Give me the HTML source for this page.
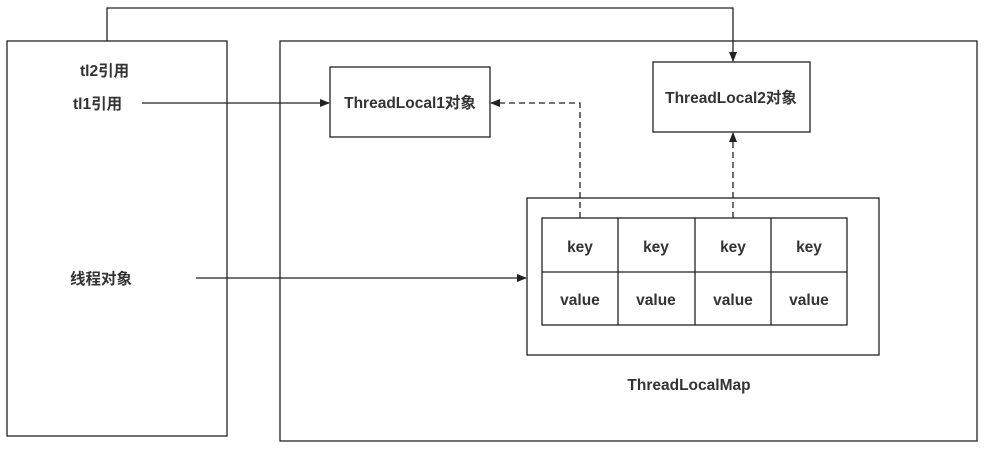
<!DOCTYPE html>
<html><head><meta charset="utf-8"><style>
body{margin:0;background:#fff}
text{font-family:"Liberation Sans","Noto Sans CJK SC",sans-serif;font-size:15.5px;font-weight:bold;fill:#333}
</style></head><body>
<svg width="989" height="451" xmlns="http://www.w3.org/2000/svg">
<defs><marker id="a" markerWidth="10" markerHeight="8" refX="9" refY="4" orient="auto" markerUnits="userSpaceOnUse"><path d="M0,0 L10,4 L0,8 Z" fill="#222"/></marker></defs>
<g fill="none" stroke="#222" stroke-width="1.3">
<rect x="7" y="41" width="220" height="395"/>
<rect x="280" y="41" width="697" height="400"/>
<rect x="330" y="67" width="160" height="70"/>
<rect x="653" y="62" width="157" height="70"/>
<rect x="527" y="198" width="352" height="157"/>
<rect x="542" y="218" width="305" height="107"/>
<line x1="542" y1="272" x2="847" y2="272"/>
<line x1="618" y1="218" x2="618" y2="325"/>
<line x1="695" y1="218" x2="695" y2="325"/>
<line x1="771" y1="218" x2="771" y2="325"/>
<polyline points="107,41 107,8 733,8 733,61" marker-end="url(#a)"/>
<line x1="142" y1="103" x2="329" y2="103" marker-end="url(#a)"/>
<line x1="196" y1="278" x2="526" y2="278" marker-end="url(#a)"/>
<polyline points="580,218 580,103 491,103" stroke-dasharray="6,4" marker-end="url(#a)"/>
<line x1="733" y1="218" x2="733" y2="133" stroke-dasharray="6,4" marker-end="url(#a)"/>
</g>
<text x="80" y="76">tl2引用</text>
<text x="73" y="109">tl1引用</text>
<text x="70" y="284">线程对象</text>
<text x="410" y="108" text-anchor="middle">ThreadLocal1对象</text>
<text x="731" y="103" text-anchor="middle">ThreadLocal2对象</text>
<g text-anchor="middle">
<text x="580" y="252">key</text><text x="656" y="252">key</text><text x="733" y="252">key</text><text x="809" y="252">key</text>
<text x="580" y="305">value</text><text x="656" y="305">value</text><text x="733" y="305">value</text><text x="809" y="305">value</text>
<text x="689" y="390">ThreadLocalMap</text>
</g>
</svg>
</body></html>
